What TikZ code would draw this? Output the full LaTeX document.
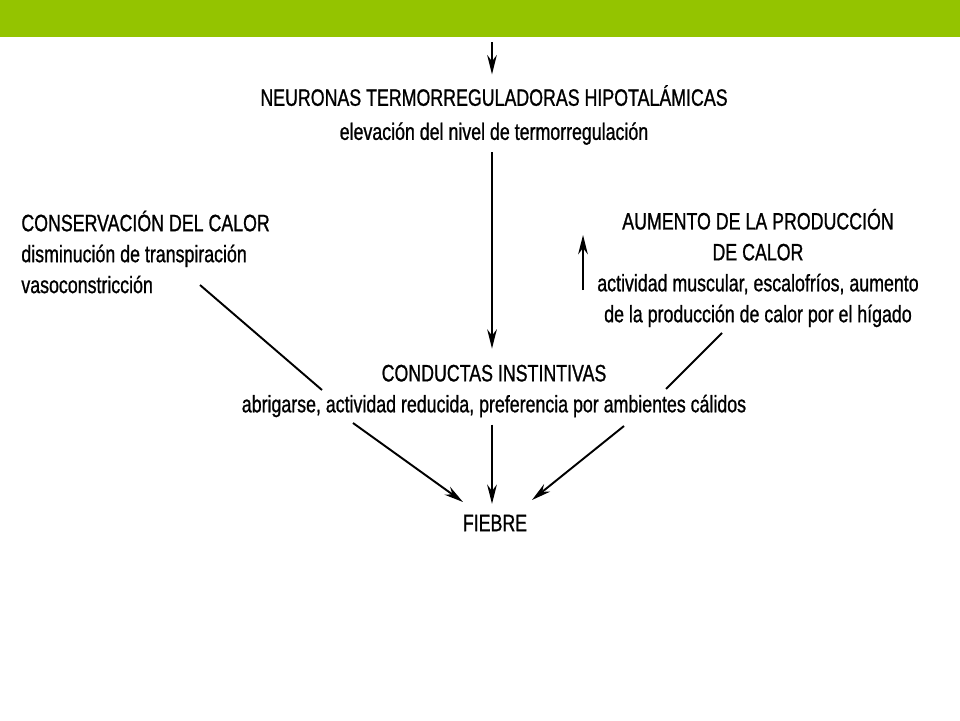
\documentclass[tikz,border=0pt]{standalone}
\usepackage{fontspec}
\setmainfont{Liberation Sans}[FakeStretch=0.75, FakeBold=0.9]
\usetikzlibrary{arrows.meta}
\definecolor{bandgreen}{RGB}{148,196,0}

\begin{document}
\begin{tikzpicture}[
    x=0.02cm, y=-0.02cm,
    title/.style={font=\fontsize{13.5}{17.6}\selectfont, align=center, inner sep=4pt},
    arr/.style={-{Stealth[length=11pt,width=5.5pt]}, line width=1.1pt},
    seg/.style={line width=1.1pt}
]
    \useasboundingbox (0,0) rectangle (960,720);

    % Top band
    \fill[bandgreen] (0,0) rectangle (960,37);

    % Blocks
    \node[title, font=\fontsize{13.5}{19.4}\selectfont] (neur) at (494,115)
        {NEURONAS TERMORREGULADORAS HIPOTALÁMICAS\\elevación del nivel de termorregulación};
    \node[title, align=left, anchor=west] (cons) at (14,252)
        {CONSERVACIÓN DEL CALOR\\disminución de transpiración\\vasoconstricción};
    \node[title] (aum) at (758,268)
        {AUMENTO DE LA PRODUCCIÓN\\DE CALOR\\actividad muscular, escalofríos, aumento\\de la producción de calor por el hígado};
    \node[title] (cond) at (494,391)
        {CONDUCTAS INSTINTIVAS\\abrigarse, actividad reducida, preferencia por ambientes cálidos};
    \node[title] (fiebre) at (495,523) {FIEBRE};

    % Free ends
    \coordinate (entry) at (492,42);
    \coordinate (consout) at (200,285);
    \coordinate (consgap) at (322,390);
    \coordinate (consback) at (353,423);
    \coordinate (aumout) at (722,333);
    \coordinate (aumgap) at (666,389);
    \coordinate (aumback) at (624,426);
    \coordinate (upbot) at (583,290);
    \coordinate (uptop) at (583,235);

    % Vertical flow
    \draw[arr] (entry) -- ([yshift=2pt]entry |- neur.north);
    \draw[arr] (entry |- neur.south) -- ([yshift=5pt]entry |- cond.north);
    \draw[arr] (entry |- cond.south) -- ([yshift=2pt]entry |- fiebre.north);

    % Side flows
    \draw[seg] (consout) -- (consgap);
    \draw[arr] (consback) -- ([shift={(-32,-21)}]fiebre.center);
    \draw[seg] (aumout) -- (aumgap);
    \draw[arr] (aumback) -- ([shift={(37,-23)}]fiebre.center);
    \draw[arr] (upbot) -- (uptop);

\end{tikzpicture}
\end{document}
